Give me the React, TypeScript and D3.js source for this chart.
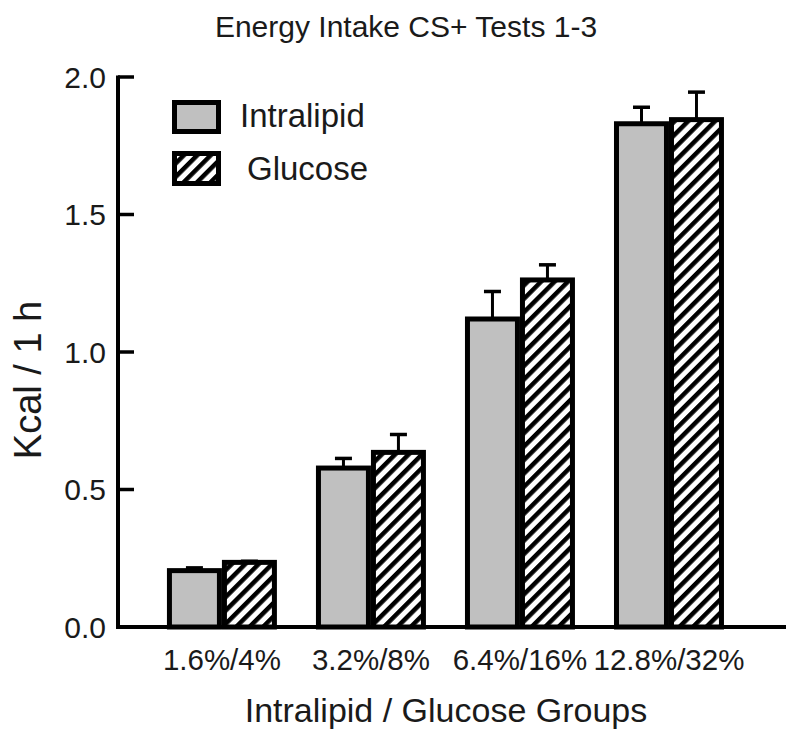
import React from "react";
import * as d3 from "d3";

const categories = ["1.6%/4%", "3.2%/8%", "6.4%/16%", "12.8%/32%"];
const seriesNames = ["Intralipid", "Glucose"];
const intralipid = [0.205, 0.578, 1.12, 1.83];
const intralipidErr = [0.01, 0.035, 0.1, 0.06];
const glucose = [0.235, 0.635, 1.262, 1.845];
const glucoseErr = [0.004, 0.065, 0.055, 0.1];
const yTicks = [0, 0.5, 1.0, 1.5, 2.0];

const W = 800;
const H = 743;
const FONT = "'Liberation Sans', Arial, sans-serif";
const TXT = "#1a1a1a";

export default function App() {
  const x = d3
    .scaleBand<string>()
    .domain(categories)
    .range([118, 785])
    .paddingInner(0.262)
    .paddingOuter(0.369)
    .align(0.445);
  const xs = d3.scaleBand<string>().domain(seriesNames).range([0, x.bandwidth()]);
  const y = d3.scaleLinear().domain([0, 2]).range([627, 77]);

  const series = [
    { name: "Intralipid", values: intralipid, errs: intralipidErr, fill: "#c0c0c0" },
    { name: "Glucose", values: glucose, errs: glucoseErr, fill: "url(#hatch)" },
  ];

  const bw = xs.bandwidth();
  const x0 = 118;
  const y0 = y(0);

  return (
    <svg
      width={W}
      height={H}
      style={{ position: "absolute", left: 0, top: 0, background: "#fff", display: "block" }}
    >
      <defs>
        <pattern
          id="hatch"
          patternUnits="userSpaceOnUse"
          width={9.5}
          height={9.5}
          patternTransform="rotate(45)"
        >
          <rect x={0} y={0} width={9.5} height={9.5} fill="#fff" />
          <rect x={0} y={0} width={4.5} height={9.5} fill="#000" />
        </pattern>
      </defs>
      <rect x={0} y={0} width={W} height={H} fill="#fff" />

      {/* title */}
      <text x={406} y={37} textAnchor="middle" fontFamily={FONT} fontSize={30} fill={TXT}>
        Energy Intake CS+ Tests 1-3
      </text>

      {/* error bars (behind bars) */}
      {series.map((s) =>
        categories.map((c, i) => {
          const cx = (x(c) as number) + (xs(s.name) as number) + bw / 2;
          const yt = y(s.values[i] + s.errs[i]);
          return (
            <g key={s.name + c + "e"}>
              <line x1={cx} x2={cx} y1={y(s.values[i])} y2={yt} stroke="#000" strokeWidth={3} />
              <line x1={cx - 8.5} x2={cx + 8.5} y1={yt} y2={yt} stroke="#000" strokeWidth={3.5} />
            </g>
          );
        })
      )}

      {/* bars */}
      {series.map((s) =>
        categories.map((c, i) => {
          const bx = (x(c) as number) + (xs(s.name) as number);
          const v = s.values[i];
          return (
            <rect
              key={s.name + c}
              x={bx + 2.5}
              y={y(v)}
              width={bw - 5}
              height={y0 - y(v)}
              fill={s.fill}
              stroke="#000"
              strokeWidth={5}
            />
          );
        })
      )}

      {/* y axis */}
      <line x1={x0} x2={x0} y1={y(2) - 1.5} y2={y0 + 1.5} stroke="#000" strokeWidth={4} />
      {yTicks.map((t) => (
        <g key={t}>
          <line x1={x0} x2={x0 + 16} y1={y(t)} y2={y(t)} stroke="#000" strokeWidth={3.5} />
          <text
            x={106}
            y={y(t)}
            dy="0.36em"
            textAnchor="end"
            fontFamily={FONT}
            fontSize={30}
            fill={TXT}
          >
            {t.toFixed(1)}
          </text>
        </g>
      ))}
      {/* x axis */}
      <line x1={x0 - 2} x2={786} y1={y0} y2={y0} stroke="#000" strokeWidth={4} />
      {categories.map((c) => (
        <text
          key={c}
          x={(x(c) as number) + x.bandwidth() / 2}
          y={670}
          textAnchor="middle"
          fontFamily={FONT}
          fontSize={29.5}
          fill={TXT}
        >
          {c}
        </text>
      ))}

      {/* axis titles */}
      <text x={446} y={722} textAnchor="middle" fontFamily={FONT} fontSize={34} fill={TXT}>
        Intralipid / Glucose Groups
      </text>
      <text
        transform={`translate(41,380) rotate(-90)`}
        textAnchor="middle"
        fontFamily={FONT}
        fontSize={38}
        fill={TXT}
      >
        Kcal / 1 h
      </text>

      {/* legend */}
      <rect x={174.5} y={102.5} width={44} height={29} fill="#c0c0c0" stroke="#000" strokeWidth={5} />
      <text x={240} y={127} fontFamily={FONT} fontSize={33} fill={TXT}>
        Intralipid
      </text>
      <rect x={174.5} y={153.5} width={44} height={30} fill="url(#hatch)" stroke="#000" strokeWidth={5} />
      <text x={247} y={180} fontFamily={FONT} fontSize={33} fill={TXT}>
        Glucose
      </text>
    </svg>
  );
}
